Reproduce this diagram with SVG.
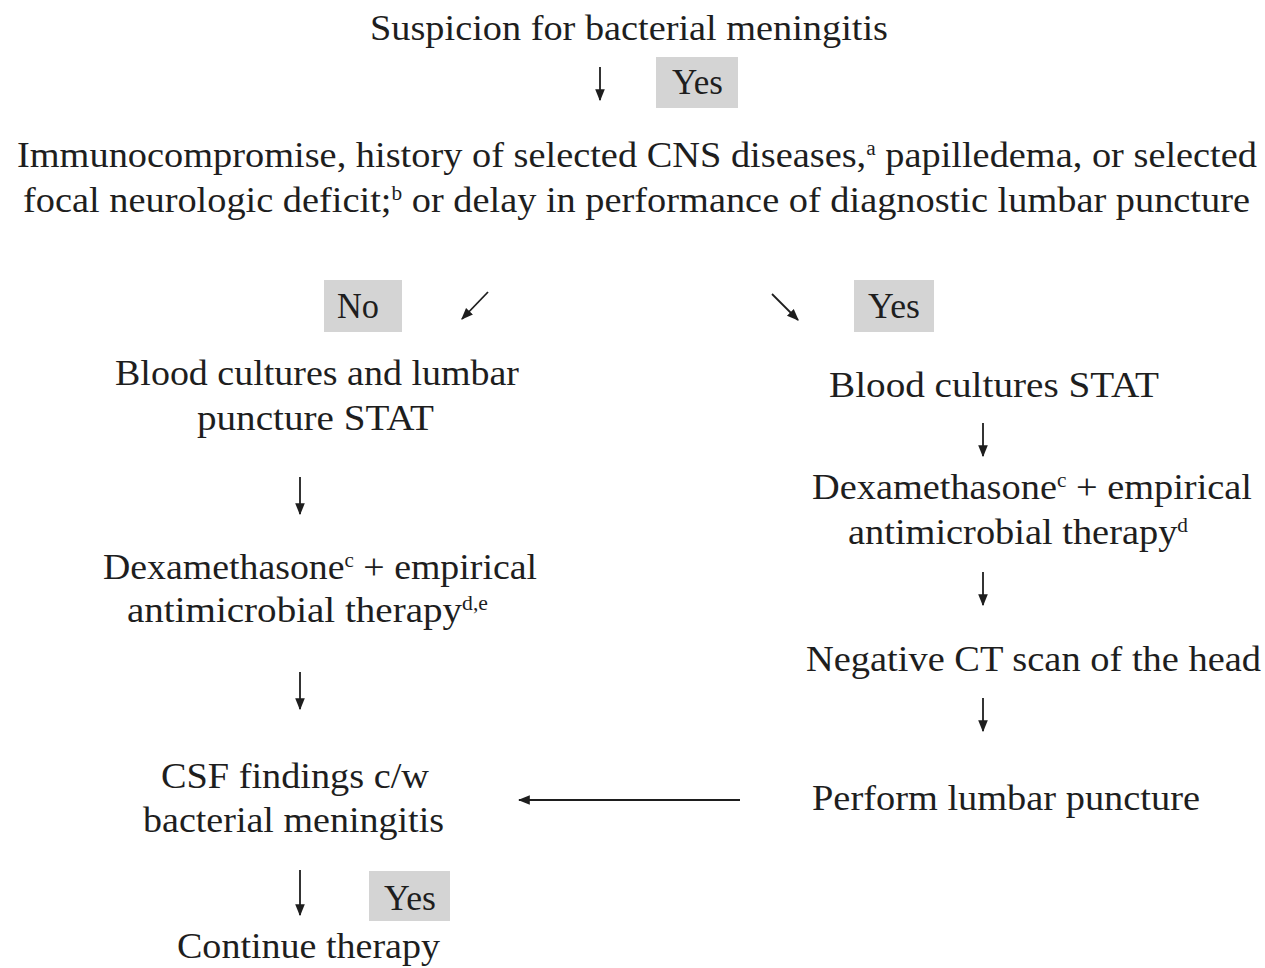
<svg xmlns="http://www.w3.org/2000/svg" width="1265" height="968" viewBox="0 0 1265 968">
<style>
text{font-family:"Liberation Serif","Times New Roman",serif;font-size:36px;fill:#1e1e1e}
.sup{font-size:20px}
.box{fill:#d4d4d4}
.arr{stroke:#1e1e1e;stroke-width:1.8;fill:none;marker-end:url(#ah)}
</style>
<defs>
<marker id="ah" viewBox="0 0 10 10" refX="9" refY="5" markerWidth="12" markerHeight="12" markerUnits="userSpaceOnUse" orient="auto">
<path d="M0,1 L10,5 L0,9 z" fill="#1e1e1e"/>
</marker>
</defs>
<rect width="1265" height="968" fill="#ffffff"/>

<g id="connectors">
<line class="arr" x1="600" y1="67" x2="600" y2="100"/>
<line class="arr" x1="488" y1="292" x2="462" y2="319"/>
<line class="arr" x1="772" y1="294" x2="798" y2="320"/>
<line class="arr" x1="300" y1="477" x2="300" y2="514"/>
<line class="arr" x1="300" y1="672" x2="300" y2="709"/>
<line class="arr" x1="300" y1="870" x2="300" y2="915"/>
<line class="arr" x1="983" y1="423" x2="983" y2="456"/>
<line class="arr" x1="983" y1="572" x2="983" y2="605"/>
<line class="arr" x1="983" y1="698" x2="983" y2="731"/>
<line class="arr" x1="740" y1="800" x2="519" y2="800"/>
</g>

<g id="n-suspicion">
<text x="370" y="40" textLength="518" lengthAdjust="spacingAndGlyphs">Suspicion for bacterial meningitis</text>
</g>
<g id="lbl-yes-top">
<rect class="box" x="656" y="57" width="82" height="51"/>
<text x="672" y="94" textLength="51" lengthAdjust="spacingAndGlyphs">Yes</text>
</g>
<g id="n-immuno">
<text x="17" y="167" textLength="1240" lengthAdjust="spacingAndGlyphs">Immunocompromise, history of selected CNS diseases,<tspan class="sup" dy="-12">a</tspan><tspan dy="12"> papilledema, or selected</tspan></text>
<text x="23" y="212" textLength="1227" lengthAdjust="spacingAndGlyphs">focal neurologic deficit;<tspan class="sup" dy="-12">b</tspan><tspan dy="12"> or delay in performance of diagnostic lumbar puncture</tspan></text>
</g>
<g id="lbl-no">
<rect class="box" x="324" y="280" width="78" height="52"/>
<text x="337" y="318" textLength="42" lengthAdjust="spacingAndGlyphs">No</text>
</g>
<g id="lbl-yes-right">
<rect class="box" x="854" y="280" width="80" height="52"/>
<text x="868" y="318" textLength="52" lengthAdjust="spacingAndGlyphs">Yes</text>
</g>
<g id="n-blood-lp">
<text x="115" y="385" textLength="404" lengthAdjust="spacingAndGlyphs">Blood cultures and lumbar</text>
<text x="197" y="430" textLength="237" lengthAdjust="spacingAndGlyphs">puncture STAT</text>
</g>
<g id="n-dex-left">
<text x="103" y="579" textLength="434" lengthAdjust="spacingAndGlyphs">Dexamethasone<tspan class="sup" dy="-12">c</tspan><tspan dy="12"> + empirical</tspan></text>
<text x="127" y="622" textLength="361" lengthAdjust="spacingAndGlyphs">antimicrobial therapy<tspan class="sup" dy="-12">d,e</tspan></text>
</g>
<g id="n-csf">
<text x="161" y="788" textLength="268" lengthAdjust="spacingAndGlyphs">CSF findings c/w</text>
<text x="143" y="832" textLength="301" lengthAdjust="spacingAndGlyphs">bacterial meningitis</text>
</g>
<g id="lbl-yes-bottom">
<rect class="box" x="369" y="871" width="81" height="50"/>
<text x="384" y="910" textLength="52" lengthAdjust="spacingAndGlyphs">Yes</text>
</g>
<g id="n-continue">
<text x="177" y="958" textLength="263" lengthAdjust="spacingAndGlyphs">Continue therapy</text>
</g>
<g id="n-blood-stat">
<text x="829" y="397" textLength="330" lengthAdjust="spacingAndGlyphs">Blood cultures STAT</text>
</g>
<g id="n-dex-right">
<text x="812" y="499" textLength="440" lengthAdjust="spacingAndGlyphs">Dexamethasone<tspan class="sup" dy="-12">c</tspan><tspan dy="12"> + empirical</tspan></text>
<text x="848" y="544" textLength="340" lengthAdjust="spacingAndGlyphs">antimicrobial therapy<tspan class="sup" dy="-12">d</tspan></text>
</g>
<g id="n-ct">
<text x="806" y="671" textLength="455" lengthAdjust="spacingAndGlyphs">Negative CT scan of the head</text>
</g>
<g id="n-lp">
<text x="812" y="810" textLength="388" lengthAdjust="spacingAndGlyphs">Perform lumbar puncture</text>
</g>
</svg>
